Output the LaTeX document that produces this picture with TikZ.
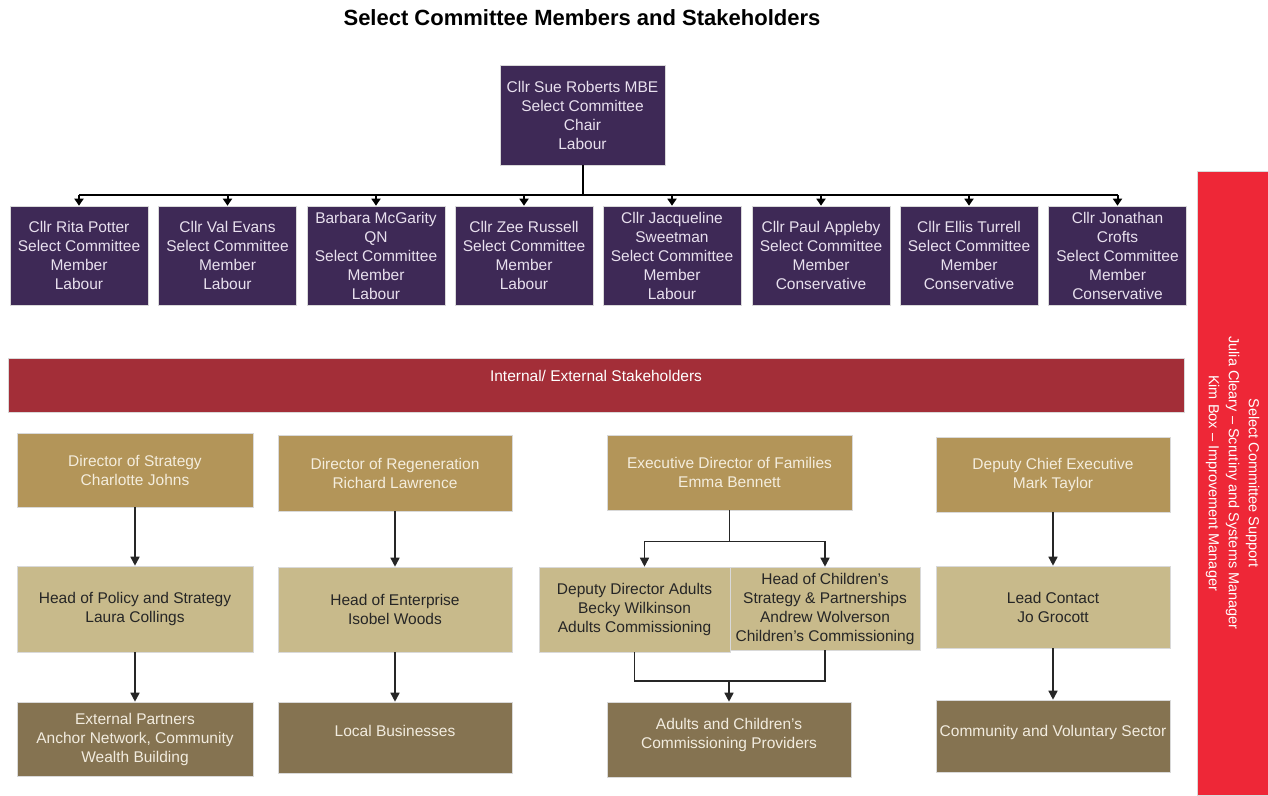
\documentclass[tikz,border=0pt]{standalone}
\usepackage{fontspec}
\setmainfont{Liberation Sans}
\usetikzlibrary{arrows.meta}

\definecolor{chairpurple}{HTML}{3E2956}
\definecolor{lavender}{HTML}{E8E0EE}
\definecolor{stakered}{HTML}{A32E38}
\definecolor{supportred}{HTML}{EE2737}
\definecolor{dirfill}{HTML}{B39559}
\definecolor{dirtext}{HTML}{F4EDDD}
\definecolor{headfill}{HTML}{C8BA8B}
\definecolor{headtext}{HTML}{262626}
\definecolor{partnerfill}{HTML}{857351}
\definecolor{partnertext}{HTML}{F2ECDF}
\definecolor{boxedge}{HTML}{D9D9D9}

\tikzset{
  box/.style={rectangle, draw=boxedge, line width=0.6pt, align=center,
    inner sep=2pt, font=\fontsize{15.5}{19}\selectfont},
  memberbox/.style={box, fill=chairpurple, text=lavender,
    minimum width=138pt, minimum height=99pt},
  dirbox/.style={box, fill=dirfill, text=dirtext},
  headbox/.style={box, fill=headfill, text=headtext},
  partnerbox/.style={box, fill=partnerfill, text=partnertext},
  bus/.style={line width=2pt, black},
  drop/.style={bus, -{Triangle[width=9pt,length=7pt]}},
  link/.style={line width=1.6pt, black!85},
  flow/.style={link, -{Triangle[width=9pt,length=9pt]}},
}

\begin{document}
\begin{tikzpicture}[x=1pt,y=-1pt]

  \useasboundingbox (0,0) rectangle (1268,795);

  %% title
  \node[font=\fontsize{22}{26}\selectfont\bfseries] (heading) at (582,18)
  {Select Committee Members and Stakeholders};

  %% chair
  \node[memberbox, minimum width=165pt, minimum height=100pt] (chair) at (582.5,115)
  {Cllr Sue Roberts MBE\\Select Committee\\Chair\\Labour};

  %% members
  \node[memberbox] (potter) at (79,255.5)
  {Cllr Rita Potter\\Select Committee\\Member\\Labour};
  \node[memberbox] (evans) at (227.5,255.5)
  {Cllr Val Evans\\Select Committee\\Member\\Labour};
  \node[memberbox] (mcgarity) at (376,255.5)
  {Barbara McGarity\\QN\\Select Committee\\Member\\Labour};
  \node[memberbox] (russell) at (524,255.5)
  {Cllr Zee Russell\\Select Committee\\Member\\Labour};
  \node[memberbox] (sweetman) at (672,255.5)
  {Cllr Jacqueline\\Sweetman\\Select Committee\\Member\\Labour};
  \node[memberbox] (appleby) at (821,255.5)
  {Cllr Paul Appleby\\Select Committee\\Member\\Conservative};
  \node[memberbox] (turrell) at (969,255.5)
  {Cllr Ellis Turrell\\Select Committee\\Member\\Conservative};
  \node[memberbox] (crofts) at (1117.5,255.5)
  {Cllr Jonathan\\Crofts\\Select Committee\\Member\\Conservative};

  %% chair to members
  \draw[bus] (chair.south) -- ++(0,30) coordinate (busline);
  \draw[bus] (potter.north |- busline) -- (crofts.north |- busline);
  \draw[drop] (potter.north |- busline) -- (potter.north);
  \draw[drop] (evans.north |- busline) -- (evans.north);
  \draw[drop] (mcgarity.north |- busline) -- (mcgarity.north);
  \draw[drop] (russell.north |- busline) -- (russell.north);
  \draw[drop] (sweetman.north |- busline) -- (sweetman.north);
  \draw[drop] (appleby.north |- busline) -- (appleby.north);
  \draw[drop] (turrell.north |- busline) -- (turrell.north);
  \draw[drop] (crofts.north |- busline) -- (crofts.north);

  %% support bar
  \node[rectangle, fill=supportred, draw=boxedge, line width=0.6pt, text=white,
    align=center, rotate=-90, minimum width=624pt, minimum height=71pt,
    font=\fontsize{14.5}{20}\selectfont] (support) at (1232.5,483)
  {Select Committee Support\\Julia Cleary -- Scrutiny and Systems Manager\\Kim Box -- Improvement Manager};

  %% stakeholders bar
  \node[rectangle, fill=stakered, draw=boxedge, line width=0.6pt, text=white,
    minimum width=1176pt, minimum height=54pt, text height=11pt, text depth=19pt,
    font=\fontsize{15.5}{19}\selectfont] (stake) at (596,385.5)
  {Internal/ External Stakeholders};

  %% strategy column
  \node[dirbox, minimum width=236pt, minimum height=74pt] (strategy) at (135,470)
  {Director of Strategy\\Charlotte Johns};
  \node[headbox, minimum width=236pt, minimum height=86pt] (policy) at (135,609)
  {Head of Policy and Strategy\\Laura Collings};
  \node[partnerbox, minimum width=236pt, minimum height=74pt] (partners) at (135,739)
  {External Partners\\Anchor Network, Community\\Wealth Building};
  \draw[flow] (strategy) -- (policy);
  \draw[flow] (policy) -- (partners);

  %% regeneration column
  \node[dirbox, minimum width=234pt, minimum height=76pt] (regen) at (395,473)
  {Director of Regeneration\\Richard Lawrence};
  \node[headbox, minimum width=234pt, minimum height=85pt] (enterprise) at (395,609.5)
  {Head of Enterprise\\Isobel Woods};
  \node[partnerbox, minimum width=234pt, minimum height=71pt, text depth=13pt] (business) at (395,737.5)
  {Local Businesses};
  \draw[flow] (regen) -- (enterprise);
  \draw[flow] (enterprise) -- (business);

  %% families column
  \node[dirbox, minimum width=245pt, minimum height=75pt] (families) at (729.5,472.5)
  {Executive Director of Families\\Emma Bennett};
  \node[headbox, minimum width=191pt, minimum height=85pt] (adults) at (634.5,609.5)
  {Deputy Director Adults\\Becky Wilkinson\\Adults Commissioning};
  \node[headbox, minimum width=190pt, minimum height=83pt] (children) at (825,608.5)
  {Head of Children's\\Strategy \& Partnerships\\Andrew Wolverson\\Children's Commissioning};
  \node[partnerbox, minimum width=244pt, minimum height=75pt, text depth=13pt] (providers) at (729,739.5)
  {Adults and Children's\\Commissioning Providers};
  \draw[link] (families.south) -- ++(0,31) coordinate (famsplit);
  \draw[link] ([xshift=10pt]adults.north |- famsplit) -- (children.north |- famsplit);
  \draw[flow] ([xshift=10pt]adults.north |- famsplit) -- ([xshift=10pt]adults.north);
  \draw[flow] (children.north |- famsplit) -- (children.north);
  \coordinate (famjoin) at (729,681);
  \draw[link] (adults.south) |- (famjoin) -| (children.south);
  \draw[flow] (famjoin) -- (providers.north);

  %% deputy chief column
  \node[dirbox, minimum width=234pt, minimum height=75pt] (deputy) at (1053,474.5)
  {Deputy Chief Executive\\Mark Taylor};
  \node[headbox, minimum width=234pt, minimum height=82pt] (contact) at (1053,607)
  {Lead Contact\\Jo Grocott};
  \node[partnerbox, minimum width=234pt, minimum height=72pt, text depth=11pt] (voluntary) at (1053,736)
  {Community and Voluntary Sector};
  \draw[flow] (deputy) -- (contact);
  \draw[flow] (contact) -- (voluntary);

\end{tikzpicture}
\end{document}
